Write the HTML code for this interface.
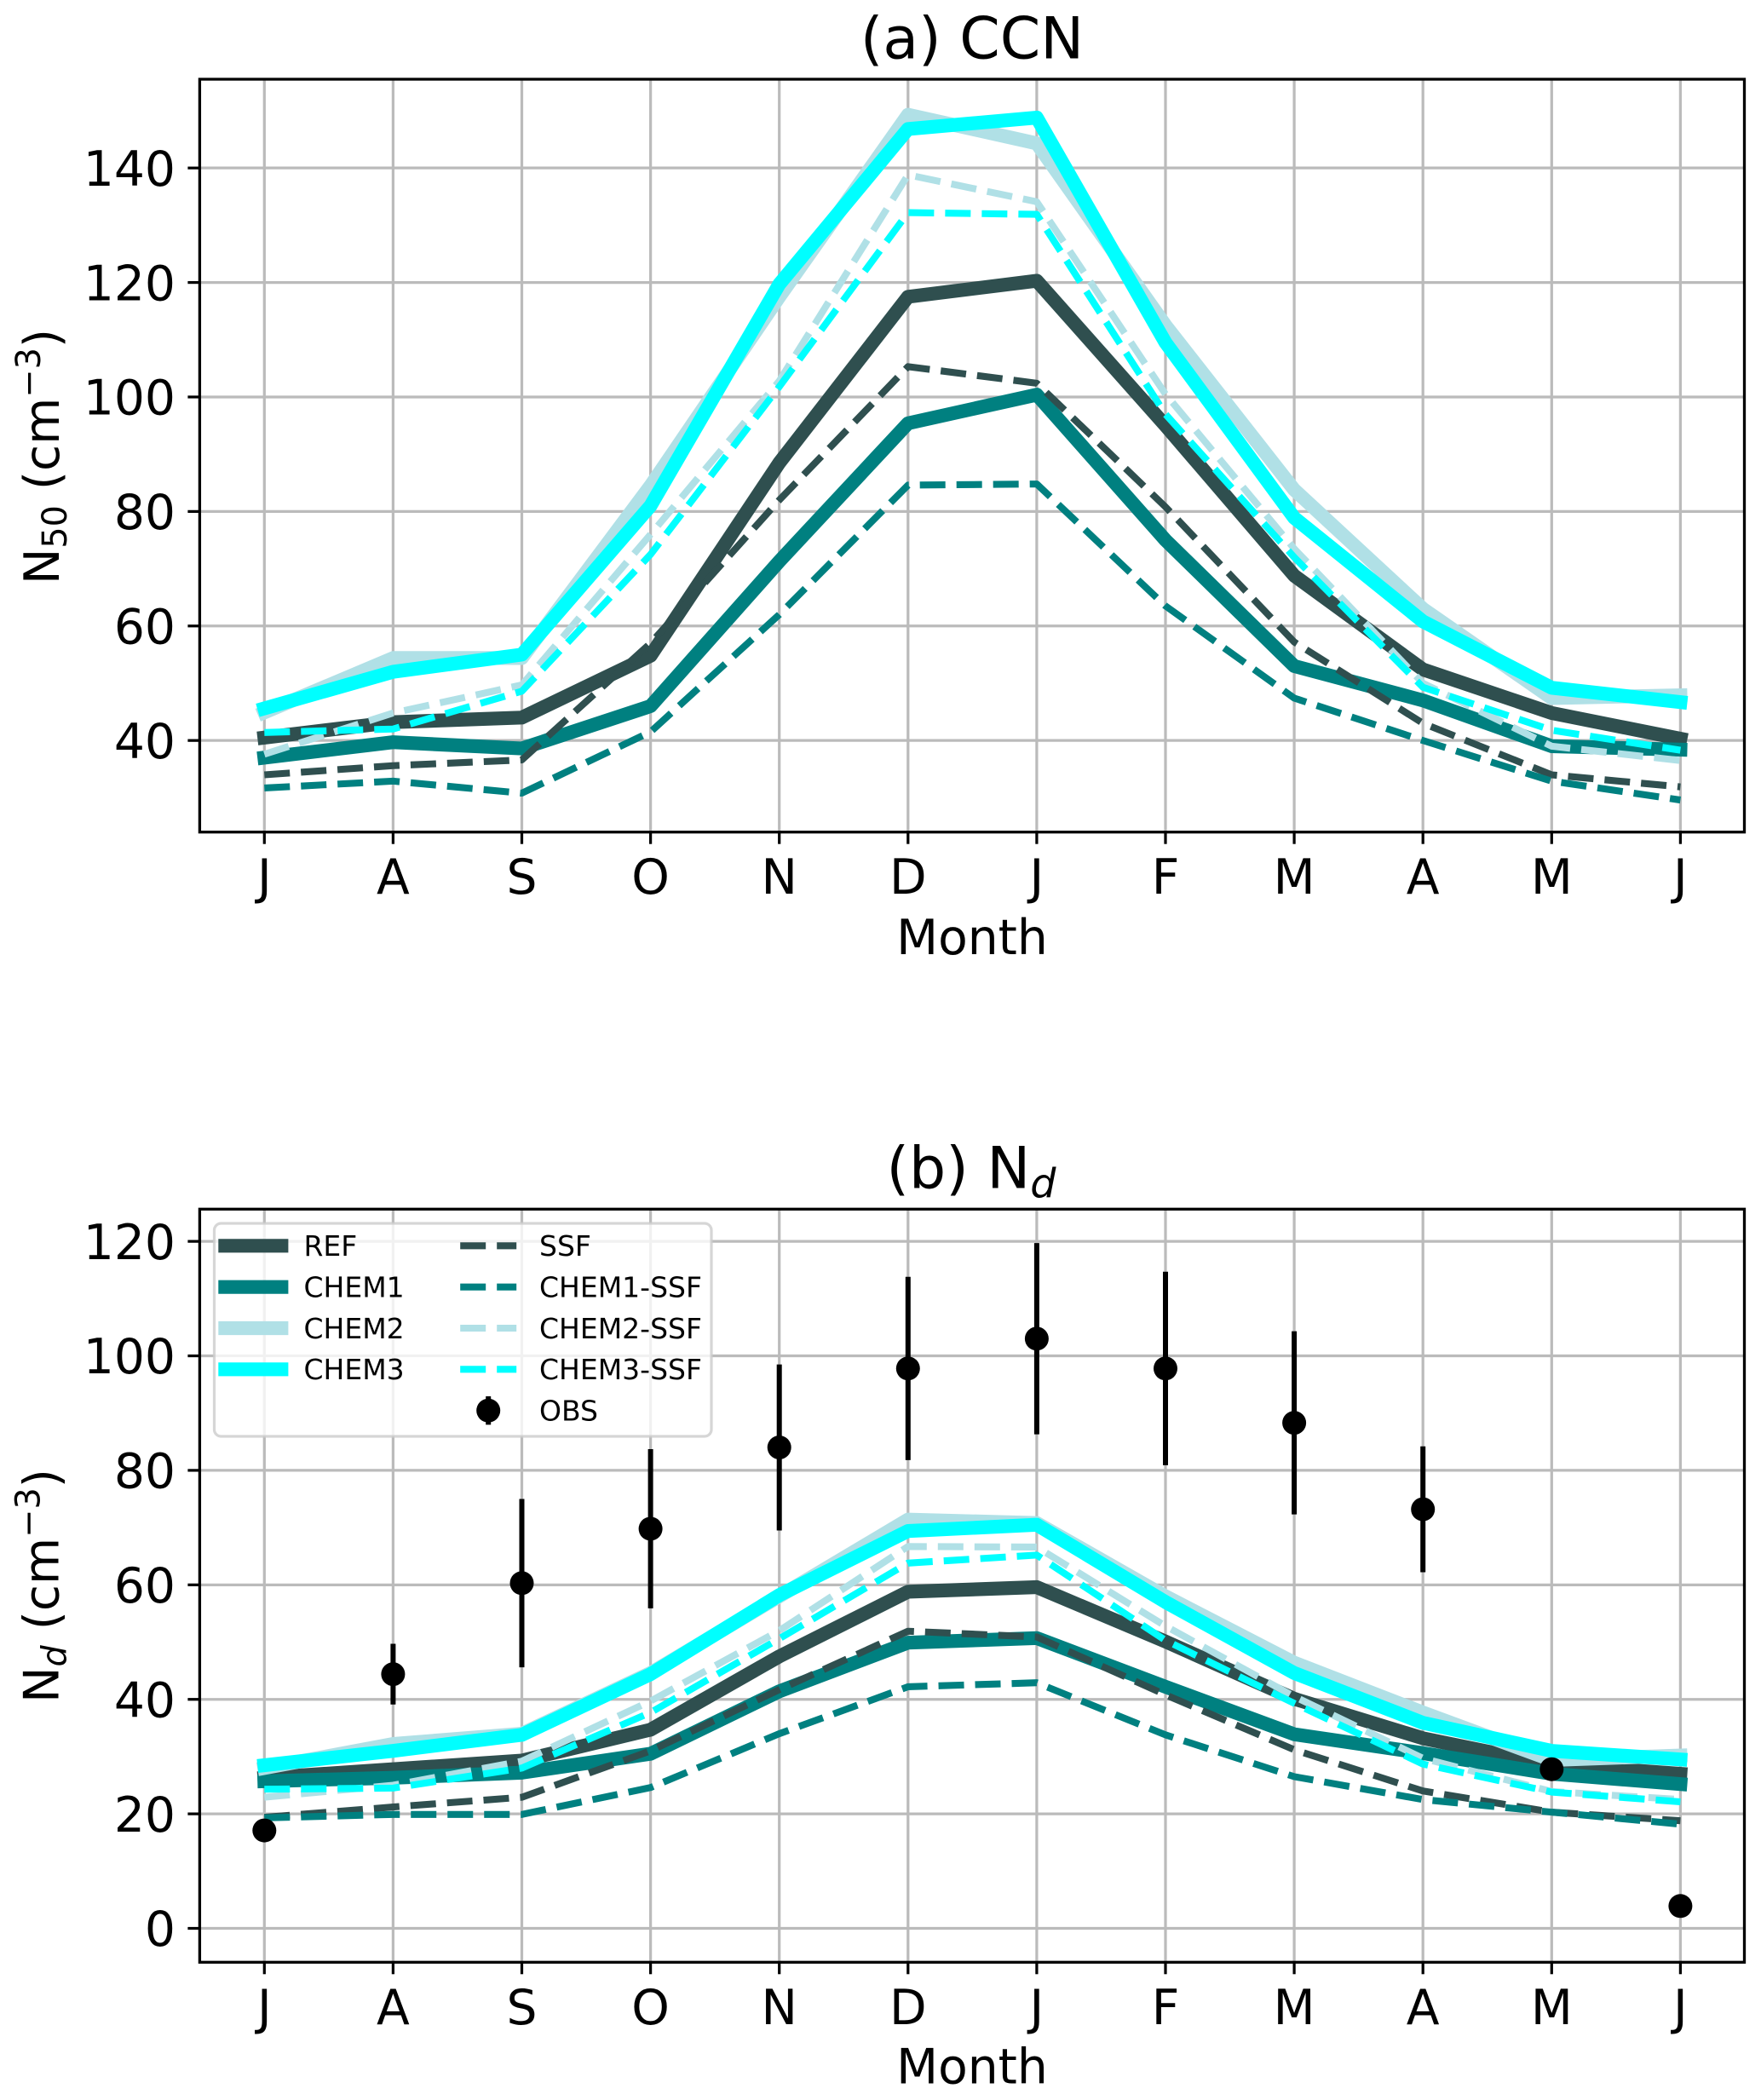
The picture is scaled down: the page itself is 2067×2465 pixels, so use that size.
<!DOCTYPE html>
<html lang="en">
<head>
<meta charset="utf-8">
<title>(a) CCN and (b) Nd monthly cycle</title>
<style>
html,body{margin:0;padding:0;background:#fff;}
svg{display:block;}
text{font-family:"DejaVu Sans","Liberation Sans",sans-serif;fill:#000;}
</style>
</head>
<body>
<svg id="figure" xmlns="http://www.w3.org/2000/svg" width="2067" height="2465" viewBox="0 0 2067 2465">
  <rect x="0" y="0" width="2067" height="2465" fill="#fff"/>
  <g id="panel-a"></g>
  <g id="panel-b"></g>

  <text x="1141" y="68.5" text-anchor="middle" font-size="68">(a) CCN</text>
  <text x="1140" y="1394.5" text-anchor="middle" font-size="68">(b) N<tspan font-size="47.6" font-style="italic" dy="11">d</tspan></text>
  <text x="1141" y="1120" text-anchor="middle" font-size="56.7">Month</text>
  <text x="1141" y="2445.5" text-anchor="middle" font-size="56.7">Month</text>
  <text transform="translate(69,536) rotate(-90)" text-anchor="middle" font-size="56.7">N<tspan font-size="39.7" dy="9">50</tspan><tspan dy="-9"> (cm</tspan><tspan font-size="39.7" dy="-22">−3</tspan><tspan dy="22">)</tspan></text>
  <text transform="translate(68.5,1861.5) rotate(-90)" text-anchor="middle" font-size="56.7">N<tspan font-size="39.7" font-style="italic" dy="9">d</tspan><tspan dy="-9"> (cm</tspan><tspan font-size="39.7" dy="-22">−3</tspan><tspan dy="22">)</tspan></text>

  <g>
    <rect x="251.5" y="1436" width="583.5" height="250" rx="8" ry="8" fill="#fff" fill-opacity="0.8" stroke="#ccc" stroke-opacity="0.8" stroke-width="3.24"/>
    <g><line x1="256.3" x2="338.4" y1="1462.3" y2="1462.3" stroke="#2f4f4f" stroke-width="16.2"/><text x="356.5" y="1474.2" font-size="33">REF</text></g>
    <g><line x1="256.3" x2="338.4" y1="1510.7" y2="1510.7" stroke="#008080" stroke-width="16.2"/><text x="356.5" y="1522.6" font-size="33">CHEM1</text></g>
    <g><line x1="256.3" x2="338.4" y1="1559" y2="1559" stroke="#b0e0e6" stroke-width="16.2"/><text x="356.5" y="1570.9" font-size="33">CHEM2</text></g>
    <g><line x1="256.3" x2="338.4" y1="1607.3" y2="1607.3" stroke="#00ffff" stroke-width="16.2"/><text x="356.5" y="1619.2" font-size="33">CHEM3</text></g>
    <g><line x1="540.2" x2="606.2" y1="1462.3" y2="1462.3" stroke="#2f4f4f" stroke-width="8.1" stroke-dasharray="30 13"/><text x="633" y="1474.2" font-size="33">SSF</text></g>
    <g><line x1="540.2" x2="606.2" y1="1510.7" y2="1510.7" stroke="#008080" stroke-width="8.1" stroke-dasharray="30 13"/><text x="633" y="1522.6" font-size="33">CHEM1-SSF</text></g>
    <g><line x1="540.2" x2="606.2" y1="1559" y2="1559" stroke="#b0e0e6" stroke-width="8.1" stroke-dasharray="30 13"/><text x="633" y="1570.9" font-size="33">CHEM2-SSF</text></g>
    <g><line x1="540.2" x2="606.2" y1="1607.3" y2="1607.3" stroke="#00ffff" stroke-width="8.1" stroke-dasharray="30 13"/><text x="633" y="1619.2" font-size="33">CHEM3-SSF</text></g>
    <g><line x1="573.2" x2="573.2" y1="1639" y2="1672.4" stroke="#000" stroke-width="6"/><circle cx="573.2" cy="1655.7" r="14" fill="#000"/><text x="633" y="1667.6" font-size="33">OBS</text></g>
  </g>
</svg>
<script>
const months = ["J","A","S","O","N","D","J","F","M","A","M","J"];

const ccnTicks = [40,60,80,100,120,140];
const ndTicks = [0,20,40,60,80,100,120];

const ccnRef       = [40.5,43.2,44,54.8,88.5,117.5,120.3,95,68.8,52.4,44.8,40.3];
const ccnChem1     = [37,39.7,38.6,46,71.3,95.4,100.4,75,53,47,39,38.4];
const ccnChem2     = [44.9,54.4,54.4,84.5,117.5,149.3,144.3,112.5,83.8,63,47.4,47.9];
const ccnChem3     = [45.6,52,55,81,119.7,146.8,148.8,109.5,78.9,60.8,49.2,46.7];
const ccnSsf       = [34,35.6,36.6,57,82,105.3,102.4,80.8,57.2,43,34,31.9];
const ccnChem1Ssf  = [31.7,32.9,30.8,41.5,62,84.6,84.8,63.5,47.4,40,32.9,29.6];
const ccnChem2Ssf  = [37.6,44.8,49.7,76,102.8,138.8,134.1,100.5,73.5,50,39,36.5];
const ccnChem3Ssf  = [41.4,42,48.6,72.5,101.8,132.2,131.9,97,72,49.3,41.8,38.3];

const ndRef        = [26.3,27.8,29.3,34.7,47.5,58.8,59.6,50.1,40.1,33.2,28.6,27];
const ndChem1      = [25.7,26.3,27.2,30.5,41.4,49.9,50.7,42.2,33.9,30.6,27,25.2];
const ndChem2      = [28,32.2,34,44.6,58,71.4,70.8,58,46.4,37.7,29.4,30.2];
const ndChem3      = [28.5,31,33.8,44.4,58.2,69.4,70.5,57,44.6,35.9,31,29.5];
const ndSsf        = [19.4,21.2,22.9,31,41.7,51.9,50.9,40.8,31.2,24,20.3,18.8];
const ndChem1Ssf   = [19.3,19.9,19.9,24.6,34,42.2,42.9,33.8,26.5,22.5,20.3,18.2];
const ndChem2Ssf   = [22.9,25,29.2,39.7,52,66.7,66.6,52.8,40.5,29.7,23.9,22.5];
const ndChem3Ssf   = [24.3,24.5,28,37.7,50.6,63.8,65.2,50.3,39.3,28.7,23.8,22.1];

const obsValues    = [17.1,44.4,60.3,69.8,84,97.8,103,97.8,88.3,73.2,27.8,3.9];
const obsErrors    = [0,5.3,14.7,13.9,14.5,16,16.7,16.9,16,11,0,0];

const NS = "http://www.w3.org/2000/svg";
const xAxisLeft = 234.4, xAxisRight = 2047.5;

function xScale(i){ return 310.3 + i * 151.1; }
function yScaleA(v){ return 976.7 - (v - 24) * 6.72; }
function yScaleB(v){ return 2303.3 - (v + 5.92) * 6.72; }

function make(parent, tag, attrs, text){
  const node = document.createElementNS(NS, tag);
  for (const k in attrs) node.setAttribute(k, attrs[k]);
  if (text !== undefined) node.textContent = text;
  parent.appendChild(node);
  return node;
}

const seriesStyles = [
  {key:"ref", color:"#2f4f4f", dashed:false},
  {key:"chem1", color:"#008080", dashed:false},
  {key:"chem2", color:"#b0e0e6", dashed:false},
  {key:"chem3", color:"#00ffff", dashed:false},
  {key:"ssf", color:"#2f4f4f", dashed:true},
  {key:"chem1-ssf", color:"#008080", dashed:true},
  {key:"chem2-ssf", color:"#b0e0e6", dashed:true},
  {key:"chem3-ssf", color:"#00ffff", dashed:true}
];

function drawPanel(group, prefix, yScale, top, bottom, ticks, seriesList){
  // grid
  ticks.forEach(function(t){
    const g = make(group, "line", {x1:xAxisLeft, x2:xAxisRight, y1:yScale(t), y2:yScale(t), stroke:"#bbbbbb", "stroke-width":3.24});
    
    
  });
  months.forEach(function(m, i){
    const g = make(group, "line", {x1:xScale(i), x2:xScale(i), y1:top, y2:bottom, stroke:"#bbbbbb", "stroke-width":3.24});
    
    
  });
  // series
  seriesList.forEach(function(values, s){
    const st = seriesStyles[s];
    const pts = values.map(function(v, i){ return xScale(i) + "," + yScale(v); }).join(" ");
    const attrs = {points:pts, fill:"none", stroke:st.color, "stroke-linejoin":"round"};
    if (st.dashed) {
      attrs["stroke-width"] = 8.1;
      attrs["stroke-dasharray"] = "30 13";
      attrs["stroke-linecap"] = "butt";
    } else {
      attrs["stroke-width"] = 16.2;
      attrs["stroke-linecap"] = "square";
    }
    const line = make(group, "polyline", attrs);
    
    
  });
}

function drawAxes(group, prefix, yScale, top, bottom, ticks){
  const frame = make(group, "rect", {x:xAxisLeft, y:top, width:xAxisRight - xAxisLeft, height:bottom - top, fill:"none", stroke:"#000", "stroke-width":3.3});
  
  
  ticks.forEach(function(t){
    const tick = make(group, "line", {x1:xAxisLeft - 14, x2:xAxisLeft, y1:yScale(t), y2:yScale(t), stroke:"#000", "stroke-width":3.24});
    
    
    const label = make(group, "text", {x:206, y:yScale(t) + 20.7, "text-anchor":"end", "font-size":56.7}, String(t));
    
    
  });
  months.forEach(function(m, i){
    const tick = make(group, "line", {x1:xScale(i), x2:xScale(i), y1:bottom, y2:bottom + 14, stroke:"#000", "stroke-width":3.24});
    
    
    const label = make(group, "text", {x:xScale(i), y:bottom + 72.5, "text-anchor":"middle", "font-size":56.7}, m);
    
    
  });
}

const panelA = document.getElementById("panel-a");
const panelB = document.getElementById("panel-b");

drawPanel(panelA, "ccn", yScaleA, 93, 976.7, ccnTicks, [ccnRef, ccnChem1, ccnChem2, ccnChem3, ccnSsf, ccnChem1Ssf, ccnChem2Ssf, ccnChem3Ssf]);
drawAxes(panelA, "ccn", yScaleA, 93, 976.7, ccnTicks);

drawPanel(panelB, "nd", yScaleB, 1419.3, 2303.3, ndTicks, [ndRef, ndChem1, ndChem2, ndChem3, ndSsf, ndChem1Ssf, ndChem2Ssf, ndChem3Ssf]);

obsValues.forEach(function(v, i){
  const err = obsErrors[i];
  if (err > 0) {
    const bar = make(panelB, "line", {x1:xScale(i), x2:xScale(i), y1:yScaleB(v - err), y2:yScaleB(v + err), stroke:"#000", "stroke-width":6});
    
    
  }
  const dot = make(panelB, "circle", {cx:xScale(i), cy:yScaleB(v), r:14, fill:"#000"});
  
  
});

drawAxes(panelB, "nd", yScaleB, 1419.3, 2303.3, ndTicks);
</script>
</body>
</html>
